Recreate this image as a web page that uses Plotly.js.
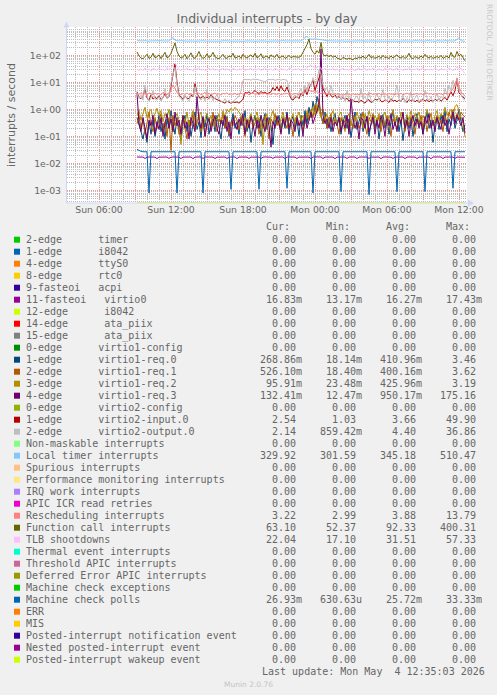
<!DOCTYPE html>
<html><head><meta charset="utf-8">
<script src="https://cdn.plot.ly/plotly-3.0.1.min.js"></script>
<style>html,body{margin:0;padding:0;background:#F0F0F0;}#chart{width:497px;height:695px;}</style>
</head><body><div id="chart"></div>
<script>
// ---------- time axis ----------
const seriesStart = [2026, 4, 3, 9, 10]; // Sun 2026-05-03 09:10 (UTC-less wall clock)
const stepMinutes = 10;
const xRange = ['2026-05-03 03:20', '2026-05-04 12:40'];
const xTickVals = ['2026-05-03 06:00','2026-05-03 09:00','2026-05-03 12:00','2026-05-03 15:00','2026-05-03 18:00','2026-05-03 21:00','2026-05-04 00:00','2026-05-04 03:00','2026-05-04 06:00','2026-05-04 09:00','2026-05-04 12:00'];
const xTickText = ['Sun 06:00','','Sun 12:00','','Sun 18:00','','Mon 00:00','','Mon 06:00','','Mon 12:00'];
const yTickVals = [1e-3, 1e-2, 1e-1, 1e0, 1e1, 1e2];
const yTickText = ['1e-03','1e-02','1e-01','1e+00','1e+01','1e+02'];

// ---------- series values (10 min samples) ----------
const virtio0 = [
0.0172,0.0170,0.0173,0.0171,0.0152,0.0171,0.0172,0.0170,0.0173,0.0171,
0.0150,0.0172,0.0170,0.0173,0.0171,0.0172,0.0153,0.0170,0.0172,0.0171,
0.0173,0.0170,0.0151,0.0172,0.0171,0.0173,0.0170,0.0172,0.0150,0.0171,
0.0172,0.0170,0.0173,0.0152,0.0171,0.0172,0.0170,0.0173,0.0171,0.0151,
0.0172,0.0170,0.0173,0.0171,0.0172,0.0152,0.0170,0.0172,0.0171,0.0173,
0.0150,0.0171,0.0172,0.0170,0.0173,0.0171,0.0152,0.0172,0.0170,0.0173,
0.0171,0.0172,0.0151,0.0170,0.0173,0.0171,0.0172,0.0170,0.0153,0.0172,
0.0171,0.0173,0.0170,0.0172,0.0150,0.0171,0.0173,0.0170,0.0172,0.0171,
0.0152,0.0172,0.0170,0.0173,0.0171,0.0172,0.0170,0.0151,0.0173,0.0171,
0.0172,0.0170,0.0173,0.0152,0.0171,0.0172,0.0170,0.0173,0.0171,0.0150,
0.0172,0.0171,0.0173,0.0170,0.0172,0.0152,0.0171,0.0173,0.0170,0.0172,
0.0151,0.0171,0.0172,0.0170,0.0173,0.0171,0.0153,0.0172,0.0170,0.0173,
0.0171,0.0172,0.0150,0.0170,0.0173,0.0171,0.0172,0.0170,0.0152,0.0172,
0.0171,0.0173,0.0170,0.0172,0.0151,0.0171,0.0173,0.0170,0.0172,0.0171,
0.0152,0.0172,0.0170,0.0173,0.0171,0.0172,0.0170,0.0150,0.0173,0.0171,
0.0172,0.0170,0.0173,0.0151,0.0171,0.0172,0.0170,0.0173,0.0171,0.0153,
0.0172,0.0171,0.0173,0.0170,0.0168];

const req0 = [
0.5,0.3,0.15,0.08,0.2,0.06,0.35,0.12,0.4,0.1,
0.25,0.6,0.15,0.3,0.08,0.45,0.2,0.9,0.3,0.12,
0.5,0.2,0.07,0.3,0.6,0.15,0.4,0.1,0.25,0.8,
0.18,0.35,0.09,0.5,0.22,0.7,0.12,0.3,0.45,0.15,
0.6,0.25,0.08,0.4,0.2,0.55,0.1,0.3,0.7,0.2,
0.35,0.12,0.5,0.25,0.9,0.15,0.4,0.06,0.3,0.6,
0.2,0.45,0.1,0.35,0.7,0.18,0.5,0.25,0.05,0.4,
0.3,0.6,0.15,0.45,0.2,0.8,0.12,0.35,0.55,0.2,
0.4,0.1,0.6,0.25,0.9,0.3,1.2,0.5,2.0,0.8,
3.0,1.5,0.6,0.3,0.8,0.2,0.5,0.15,0.4,0.7,
0.25,0.5,0.12,0.35,0.6,0.2,0.45,0.09,0.3,0.8,
0.18,0.4,0.7,0.15,0.35,0.55,0.1,0.3,0.6,0.22,
0.45,0.08,0.3,0.65,0.2,0.5,0.12,0.35,0.9,0.25,
0.55,0.15,0.4,0.07,0.3,0.6,0.2,0.45,0.1,0.35,
0.7,0.25,0.5,0.12,0.35,0.8,0.2,0.4,0.06,0.3,
0.5,0.18,0.6,0.3,0.9,0.15,0.45,0.25,0.7,0.2,
0.4,1.0,0.35,0.15,0.27];

const req1 = [
0.3,0.6,0.2,0.45,0.12,0.35,0.8,0.25,0.15,0.5,
0.2,0.4,0.7,0.15,0.35,0.1,0.5,0.03,0.6,0.25,
0.45,0.12,0.3,0.55,0.2,0.08,0.4,0.25,0.7,0.18,
0.35,0.6,0.15,0.4,0.1,0.3,0.5,0.2,0.8,0.25,
0.15,0.45,0.3,0.7,0.2,0.5,0.12,0.35,0.25,0.6,
0.4,0.18,0.55,0.3,0.1,0.45,0.25,0.65,0.2,0.35,
0.5,0.12,0.3,0.2,0.6,0.35,0.08,0.45,0.3,0.7,
0.25,0.4,0.15,0.55,0.3,0.2,0.5,0.35,0.1,0.4,
0.6,0.25,0.45,0.15,0.35,0.7,0.4,1.0,0.5,1.5,
0.8,2.5,0.6,0.3,0.5,0.2,0.4,0.7,0.25,0.45,
0.3,0.12,0.5,0.25,0.4,0.6,0.15,0.35,0.2,0.55,
0.45,0.2,0.3,0.8,0.25,0.12,0.5,0.35,0.7,0.2,
0.3,0.55,0.15,0.4,0.25,0.6,0.35,0.1,0.45,0.3,
0.2,0.5,0.35,0.7,0.15,0.4,0.25,0.55,0.3,0.12,
0.45,0.3,0.6,0.2,0.5,0.15,0.4,0.7,0.25,0.35,
0.6,0.25,0.4,0.15,0.55,0.3,0.8,0.45,1.0,0.35,
0.7,0.4,0.8,0.6,0.53];

const req2 = [
0.6,0.9,0.4,0.7,1.2,0.5,0.8,1.0,0.45,0.7,
1.1,0.6,0.9,0.35,0.7,0.5,1.0,0.3,0.15,0.5,
0.7,0.4,0.05,0.6,0.3,0.8,0.25,0.5,0.9,0.4,
0.3,0.55,0.8,0.2,0.45,0.7,0.35,0.6,0.25,0.5,
0.4,0.7,0.3,0.9,0.5,1.0,0.8,1.1,0.9,1.2,
1.0,0.8,0.6,0.3,0.5,0.2,0.45,0.7,0.3,0.55,
0.8,0.35,0.6,0.05,0.4,0.7,0.3,0.55,0.9,0.4,
0.6,0.25,0.5,0.8,0.35,0.6,0.2,0.45,0.7,0.3,
0.5,0.8,0.4,0.6,0.3,0.9,0.5,0.7,1.2,0.6,
1.5,0.8,0.5,1.0,0.4,0.7,0.3,0.6,0.9,0.45,
0.3,0.6,0.8,0.35,0.15,0.5,0.7,0.25,0.6,0.4,
0.8,0.45,0.6,0.2,0.7,0.35,0.9,0.5,0.3,0.6,
0.4,0.7,0.25,0.55,0.8,0.3,0.6,0.45,1.0,0.35,
0.6,0.3,0.8,0.5,0.2,0.65,0.4,0.9,0.35,0.7,
0.5,0.8,0.3,0.6,0.4,1.0,0.5,0.7,0.25,0.6,
0.9,0.4,0.7,0.5,1.2,0.6,0.8,1.0,0.5,1.3,
1.5,0.9,0.6,0.3,0.096];

const req3 = [
4.0,0.3,0.15,0.5,0.2,0.08,0.4,0.25,0.6,0.12,
0.35,0.18,0.5,0.1,0.3,0.7,0.2,0.45,0.15,0.8,
0.25,0.4,0.12,0.6,0.2,0.35,0.08,0.5,0.3,0.15,
3.0,0.4,0.2,0.55,0.1,0.3,0.45,0.15,0.35,0.6,
0.2,0.12,0.4,0.25,0.6,0.15,0.35,0.08,0.5,0.3,
0.18,0.45,0.25,0.7,0.12,0.4,0.2,0.55,0.3,0.1,
0.4,0.2,0.6,0.3,0.15,0.5,0.25,0.04,0.35,0.2,
0.55,0.3,0.12,0.45,0.25,0.7,0.18,0.4,0.3,0.15,
0.5,0.25,0.35,0.1,0.6,0.2,0.4,0.8,0.3,0.5,
0.8,1.5,175,0.6,0.3,0.45,0.2,0.5,0.15,0.35,
0.25,0.5,0.15,0.4,0.2,0.6,0.12,2.5,0.45,0.2,
0.35,0.08,0.5,0.4,0.2,0.55,0.15,0.3,0.5,0.12,
0.4,0.2,0.6,0.3,0.1,0.45,0.25,0.7,0.18,0.35,
0.15,0.5,0.3,0.8,0.2,0.4,0.1,0.35,0.6,0.25,
0.45,0.2,0.35,0.12,0.55,0.3,0.7,0.2,0.4,0.15,
0.5,0.3,0.18,0.6,0.25,0.4,0.12,0.35,0.8,0.3,
0.6,0.4,0.25,0.5,0.13];

const input0 = [
4.5,2.8,2.5,3.0,6.0,2.6,2.2,3.5,2.4,2.8,
2.5,3.2,2.3,2.7,4.0,2.6,3.0,8.0,15,49,
10,3.5,2.8,2.4,3.1,2.6,2.5,3.4,2.9,9.0,
4.0,2.8,2.6,3.2,2.5,2.9,2.4,3.6,2.7,2.5,
2.3,2.2,1.9,1.8,1.7,2.0,1.8,1.7,1.9,1.8,
1.9,1.7,2.0,2.4,4.2,4.0,4.5,3.8,4.3,5.0,
4.2,3.9,4.6,4.0,4.4,3.8,4.1,4.5,6.5,5.0,
7.0,4.8,7.5,5.2,4.6,6.8,4.2,2.5,2.2,2.8,
3.0,2.5,4.0,3.2,5.5,3.5,6.0,8.0,12,5.0,
9.0,15,25,6.0,4.0,3.0,4.5,3.2,2.8,3.5,
2.6,3.0,2.4,2.8,2.2,2.6,2.0,2.4,2.2,1.9,
2.0,1.8,2.2,1.9,1.7,2.1,2.3,1.8,2.0,2.4,
2.2,2.6,2.0,1.9,2.3,2.1,1.8,2.5,2.0,2.2,
1.9,2.3,2.0,2.6,2.2,1.8,2.4,2.0,2.3,1.9,
2.2,1.8,2.1,2.5,2.0,2.3,1.9,2.2,2.0,2.4,
2.1,2.5,2.0,2.3,2.8,2.2,3.0,4.5,3.2,5.0,
14,4.0,3.5,2.8,2.54];

const output0 = [
4.0,2.5,3.5,2.2,8.0,3.0,2.0,2.6,5.0,2.4,
2.2,3.0,2.0,2.8,6.0,2.5,3.2,10,20,36,
8.0,3.0,2.5,2.0,3.5,2.4,2.0,4.0,3.0,7.0,
3.5,2.6,2.2,3.0,2.0,5.5,2.4,3.2,2.1,2.8,
3.5,2.4,2.0,1.8,2.5,1.9,2.2,1.7,2.0,2.3,
2.6,3.0,5.0,12,13,12.5,13,12,13.5,12.5,
13,12.5,12,11,10.5,12,13,12.5,13,12,
12.5,13,12,13,12.5,12,6.0,3.0,2.5,3.5,
2.8,4.0,6.0,3.5,8.0,4.5,10,7.0,15,9.0,
12,30,20,8.0,5.0,6.5,3.5,8.0,4.0,3.0,
2.5,4.0,2.2,3.5,2.0,5.0,2.4,3.0,1.8,2.6,
3.2,2.0,6.0,2.4,3.0,2.0,4.5,2.2,1.8,2.6,
4.0,2.2,2.8,5.5,2.4,2.0,3.2,1.9,2.6,4.0,
8.0,2.5,2.0,3.5,1.8,2.8,2.2,4.5,2.0,2.6,
3.5,1.9,2.4,2.0,5.0,2.6,2.2,3.0,1.8,2.5,
4.0,2.2,3.0,2.5,6.0,3.5,8.0,5.0,12,7.0,
15,5.0,3.5,2.5,2.14];

const localTimer = [
350,342,338,345,352,340,336,344,348,340,
338,345,350,342,336,348,340,395,460,365,
345,340,352,338,344,336,348,342,338,350,
342,336,345,352,340,338,346,342,335,348,
340,344,338,350,342,336,345,340,338,346,
352,340,335,342,348,338,344,340,336,345,
340,338,346,352,340,335,342,348,338,344,
340,336,345,352,340,338,344,346,338,342,
340,345,342,380,470,505,420,400,410,405,
400,395,385,370,360,350,345,340,348,342,
338,345,350,342,336,348,340,338,344,340,
336,345,340,352,338,342,335,348,340,344,
338,350,342,336,345,340,338,346,352,340,
335,342,348,338,344,340,336,345,340,350,
338,342,346,336,340,352,344,338,342,335,
348,340,344,338,350,342,336,345,340,345,
395,450,350,338,330];

const rescheduling = [
3.8,3.5,4.2,3.6,3.9,3.4,4.1,3.7,3.5,4.0,
3.6,3.9,3.4,4.3,3.7,3.5,4.0,5.5,8.0,6.0,
4.2,3.7,3.5,3.9,3.6,4.1,3.5,3.8,3.4,3.9,
3.7,4.0,3.5,3.8,4.2,3.6,3.9,3.5,3.7,4.0,
3.6,3.8,3.4,3.9,3.7,4.1,3.5,3.8,3.6,3.9,
3.5,3.8,4.0,3.6,3.7,3.9,3.5,3.8,4.1,3.6,
3.8,3.5,3.9,3.7,4.0,3.6,3.8,3.5,3.9,3.7,
3.6,3.9,3.5,3.8,3.7,4.0,3.5,3.8,3.6,3.9,
3.7,3.5,3.9,4.2,5.0,6.5,5.5,4.5,4.8,4.2,
4.6,4.0,3.8,4.1,3.7,3.9,3.6,3.8,3.5,3.9,
3.6,3.8,3.4,3.7,3.5,3.9,3.6,3.4,3.8,3.5,
3.7,3.5,3.9,3.6,3.8,3.4,3.7,3.9,3.5,3.8,
3.6,3.9,3.5,3.7,3.8,3.4,3.9,3.6,3.7,3.5,
3.8,3.6,3.9,3.5,3.7,4.0,3.6,3.8,3.5,3.7,
3.9,3.6,3.8,3.5,3.7,4.1,3.6,3.9,3.5,3.8,
3.6,3.9,3.7,3.5,4.0,3.7,3.8,4.5,6.0,9.0,
13.5,7.0,4.5,3.6,3.2];

const functionCall = [
135,95,80,75,90,110,78,85,120,82,
88,105,76,95,130,82,90,120,200,290,
140,95,80,88,110,75,92,125,85,78,
100,140,90,78,85,115,82,95,130,88,
80,75,90,110,82,78,95,88,120,80,
85,95,78,110,88,80,92,105,85,120,
82,90,115,80,88,95,78,105,90,85,
110,80,88,95,78,85,100,82,90,88,
90,85,95,130,200,250,400,180,130,110,
150,120,300,110,95,105,90,100,85,95,
80,75,70,85,78,72,80,75,68,82,
76,88,80,95,78,85,110,82,90,78,
85,92,78,100,82,88,76,95,80,90,
105,85,80,92,78,88,120,82,76,90,
85,78,95,82,110,88,80,92,78,85,
90,82,100,78,85,95,80,130,90,85,
140,95,110,78,63];

const tlbShootdowns = [
30,28,32,27,35,29,31,26,33,30,
28,34,29,31,27,36,30,33,45,52,
38,30,27,32,29,35,28,31,26,33,
30,36,28,32,27,31,34,29,33,28,
31,27,30,35,28,32,29,26,33,30,
28,32,29,35,27,31,30,34,28,32,
29,33,27,31,36,28,30,32,27,34,
30,28,33,29,31,27,35,30,28,32,
29,33,27,31,30,35,40,45,38,33,
36,40,32,29,34,28,31,30,35,28,
32,27,30,34,29,31,28,33,30,27,
31,35,28,30,33,27,32,29,34,30,
28,32,30,27,35,29,31,33,28,30,
34,29,31,27,32,30,36,28,31,29,
33,28,30,35,27,31,29,32,28,34,
30,27,33,29,31,28,35,30,27,32,
38,30,34,25,22];

const machineCheckPolls = [
0.033,0.030,0.028,0.027,0.027,0.027,0.0008,0.027,0.027,0.027,
0.027,0.027,0.027,0.028,0.027,0.027,0.027,0.027,0.027,0.027,
0.0008,0.027,0.027,0.027,0.027,0.027,0.027,0.027,0.028,0.027,
0.027,0.027,0.027,0.0008,0.027,0.027,0.027,0.027,0.027,0.027,
0.027,0.027,0.027,0.027,0.027,0.028,0.027,0.0011,0.027,0.027,
0.027,0.027,0.027,0.027,0.027,0.027,0.027,0.027,0.027,0.027,
0.027,0.0011,0.027,0.027,0.027,0.027,0.027,0.027,0.027,0.027,
0.027,0.027,0.027,0.027,0.027,0.0012,0.027,0.027,0.027,0.027,
0.027,0.027,0.027,0.027,0.027,0.027,0.027,0.027,0.0008,0.027,
0.027,0.027,0.028,0.027,0.027,0.027,0.027,0.027,0.027,0.027,
0.027,0.027,0.0009,0.027,0.027,0.027,0.027,0.027,0.028,0.027,
0.027,0.027,0.027,0.027,0.027,0.027,0.0007,0.027,0.027,0.027,
0.027,0.027,0.027,0.027,0.028,0.027,0.027,0.027,0.027,0.027,
0.0009,0.027,0.027,0.027,0.027,0.027,0.027,0.027,0.027,0.027,
0.027,0.027,0.027,0.027,0.0009,0.027,0.027,0.027,0.027,0.027,
0.027,0.027,0.027,0.027,0.027,0.027,0.027,0.027,0.0012,0.027,
0.027,0.027,0.027,0.027,0.027];

// ---------- legend table ----------
const legendLabels = [
'2-edge      timer','1-edge      i8042','4-edge      ttyS0','8-edge      rtc0','9-fasteoi   acpi',
'11-fasteoi   virtio0','12-edge      i8042','14-edge      ata_piix','15-edge      ata_piix',
'0-edge      virtio1-config','1-edge      virtio1-req.0','2-edge      virtio1-req.1','3-edge      virtio1-req.2',
'4-edge      virtio1-req.3','0-edge      virtio2-config','1-edge      virtio2-input.0','2-edge      virtio2-output.0',
'Non-maskable interrupts','Local timer interrupts','Spurious interrupts','Performance monitoring interrupts',
'IRQ work interrupts','APIC ICR read retries','Rescheduling interrupts','Function call interrupts','TLB shootdowns',
'Thermal event interrupts','Threshold APIC interrupts','Deferred Error APIC interrupts','Machine check exceptions',
'Machine check polls','ERR','MIS','Posted-interrupt notification event','Nested posted-interrupt event',
'Posted-interrupt wakeup event'];
const legendColors = ['#00CC00','#0066B3','#FF8000','#FFCC00','#330099','#990099','#CCFF00','#FF0000','#808080',
'#008F00','#00487D','#B35A00','#B38F00','#6B006B','#8FB300','#B30000','#BEBEBE','#80FF80','#80C9FF','#FFC080',
'#FFE680','#AA80FF','#EE00CC','#FF8080','#666600','#FFBFFF','#00FFCC','#CC6699','#999900','#00CC00','#0066B3',
'#FF8000','#FFCC00','#330099','#990099','#CCFF00'];
const curValues = ['0.00','0.00','0.00','0.00','0.00','16.83m','0.00','0.00','0.00','0.00','268.86m','526.10m','95.91m','132.41m','0.00','2.54','2.14','0.00','329.92','0.00','0.00','0.00','0.00','3.22','63.10','22.04','0.00','0.00','0.00','0.00','26.93m','0.00','0.00','0.00','0.00','0.00'];
const minValues = ['0.00','0.00','0.00','0.00','0.00','13.17m','0.00','0.00','0.00','0.00','18.14m','18.40m','23.48m','12.47m','0.00','1.03','859.42m','0.00','301.59','0.00','0.00','0.00','0.00','2.99','52.37','17.10','0.00','0.00','0.00','0.00','630.63u','0.00','0.00','0.00','0.00','0.00'];
const avgValues = ['0.00','0.00','0.00','0.00','0.00','16.27m','0.00','0.00','0.00','0.00','410.96m','400.16m','425.96m','950.17m','0.00','3.66','4.40','0.00','345.18','0.00','0.00','0.00','0.00','3.88','92.33','31.51','0.00','0.00','0.00','0.00','25.72m','0.00','0.00','0.00','0.00','0.00'];
const maxValues = ['0.00','0.00','0.00','0.00','0.00','17.43m','0.00','0.00','0.00','0.00','3.46','3.62','3.19','175.16','0.00','49.90','36.86','0.00','510.47','0.00','0.00','0.00','0.00','13.79','400.31','57.33','0.00','0.00','0.00','0.00','33.33m','0.00','0.00','0.00','0.00','0.00'];
const columnHeaders = ['Cur:','Min:','Avg:','Max:'];
const titleText = 'Individual interrupts - by day';
const yTitleText = 'interrupts / second';
const lastUpdateText = 'Last update: Mon May  4 12:35:03 2026';
const watermarkText = 'RRDTOOL / TOBI OETIKER';
const footerText = 'Munin 2.0.76';

// plotted series (legend order = draw order)
const plotted = [
  {idx:5, y:virtio0}, {idx:10, y:req0}, {idx:11, y:req1}, {idx:12, y:req2}, {idx:13, y:req3},
  {idx:15, y:input0}, {idx:16, y:output0}, {idx:18, y:localTimer}, {idx:23, y:rescheduling},
  {idx:24, y:functionCall}, {idx:25, y:tlbShootdowns}, {idx:30, y:machineCheckPolls}
];

// ---------- build ----------
function buildTimes(n){
  const t0 = Date.UTC(seriesStart[0], seriesStart[1], seriesStart[2], seriesStart[3], seriesStart[4]);
  const out = [];
  for (let i = 0; i < n; i++) out.push(new Date(t0 + i*stepMinutes*60000).toISOString().slice(0,16).replace('T',' '));
  return out;
}
const times = buildTimes(localTimer.length);

const traces = plotted.map(s => ({
  type:'scatter', mode:'lines', x: times, y: s.y, name: legendLabels[s.idx],
  line:{color: legendColors[s.idx], width:1}, hoverinfo:'skip'
}));

// page geometry (pixels)
const W = 497, H = 695, L = 67, R = 467, T = 27, B = 203;
const px = x => (x - L) / (R - L);
const py = y => (B - y) / (B - T);
const nb = s => s.replace(/ /g, '\u00a0');
const FONT = '#666666';
const mono = {family:'DejaVu Sans Mono', size:10, color:FONT};

const annotations = [];
const shapes = [];
function txt(x, y, text, font, anchor, extra){
  annotations.push(Object.assign({xref:'paper', yref:'paper', x:px(x), y:py(y), text:nb(text), showarrow:false,
    xanchor:anchor||'left', yanchor:'middle', font:font, borderpad:0, borderwidth:0}, extra||{}));
}
function fmtVal(s){
  let unit = ' ', num = s;
  if (/[a-zA-Z]$/.test(s)) { unit = s.slice(-1); num = s.slice(0,-1); }
  return num.padStart(6, ' ') + unit;
}
// headers
const colStart = [260.3, 320.3, 380.3, 440.3];
columnHeaders.forEach((h, c) => txt(colStart[c] + 6, 226.7, h, mono));
legendLabels.forEach((lab, i) => {
  const yy = 239.7 + 12*i;
  shapes.push({type:'rect', xref:'paper', yref:'paper', x0:px(14), x1:px(20), y0:py(yy+3), y1:py(yy-3),
    fillcolor:legendColors[i], line:{width:0}});
  txt(26, yy, lab, mono);
  [curValues, minValues, avgValues, maxValues].forEach((arr, c) => txt(colStart[c], yy, fmtVal(arr[i]), mono));
});
txt(261.7, 671.7, lastUpdateText, mono);
txt(248, 684, footerText, {family:'DejaVu Sans', size:7.5, color:'#c4c4c4'}, 'center');
txt(490, 52, watermarkText, {family:'DejaVu Sans', size:7.5, color:'#c8c8c8'}, 'center', {textangle:90});
txt(11, 115, yTitleText, {family:'DejaVu Sans', size:11, color:FONT}, 'center', {textangle:-90});

// axis lines & arrows (rrdtool style)
const axisCol = '#CFD6F8';
shapes.push({type:'line', xref:'paper', yref:'paper', x0:px(66.5), x1:px(66.5), y0:py(B), y1:py(24), line:{color:axisCol, width:1}});
shapes.push({type:'path', xref:'paper', yref:'paper', path:`M${px(63.5)},${py(27.5)} L${px(69.5)},${py(27.5)} L${px(66.5)},${py(21.5)} Z`, fillcolor:axisCol, line:{width:0}});
shapes.push({type:'line', xref:'paper', yref:'paper', x0:px(66.5), x1:px(470), y0:py(B), y1:py(B), line:{color:axisCol, width:1}});
shapes.push({type:'path', xref:'paper', yref:'paper', path:`M${px(468)},${py(199.5)} L${px(468)},${py(206.5)} L${px(474)},${py(203)} Z`, fillcolor:axisCol, line:{width:0}});
// zero-valued series clamped at the log floor (drawn last by rrdtool)
shapes.push({type:'line', xref:'x', yref:'paper', x0:times[0], x1:times[times.length-1], y0:py(B-0.5), y1:py(B-0.5), line:{color:'#d4ee8a', width:1}});

// minor log grid values
const minorY = [];
for (let k = -4; k <= 3; k++) for (let m = 2; m <= 9; m++) minorY.push(m * Math.pow(10, k));

const tickFont = {family:'DejaVu Sans', size:9.3, color:FONT};
const layout = {
  width:W, height:H, autosize:false,
  paper_bgcolor:'#F0F0F0', plot_bgcolor:'#FFFFFF',
  margin:{l:L, r:W-R, t:T, b:H-B, pad:0},
  showlegend:false,
  title:{text:titleText, x:0.5, xref:'paper', xanchor:'center', y:1-19/H, yref:'container', yanchor:'middle',
    font:{family:'DejaVu Sans', size:12.5, color:FONT}},
  xaxis:{type:'date', range:xRange, tickmode:'array', tickvals:xTickVals, ticktext:xTickText,
    showgrid:true, gridcolor:'#EB9595', gridwidth:1, griddash:'1px,1px', zeroline:false, showline:false,
    ticks:'', tickfont:tickFont, fixedrange:true,
    minor:{dtick:3600000, tick0:'2026-05-03 00:00', showgrid:true, gridcolor:'#BDBDBD', griddash:'1px,1px', gridwidth:1, ticks:''}},
  yaxis:{type:'log', range:[-3.467, 3.052], tickmode:'array', tickvals:yTickVals, ticktext:yTickText,
    showgrid:true, gridcolor:'#EB9595', gridwidth:1, griddash:'1px,1px', zeroline:false, showline:false,
    ticks:'', tickfont:tickFont, ticklabelstandoff:5, fixedrange:true,
    minor:{tickmode:'array', tickvals:minorY, showgrid:true, gridcolor:'#BDBDBD', griddash:'1px,1px', gridwidth:1, ticks:''}},
  annotations:annotations, shapes:shapes
};
Plotly.newPlot('chart', traces, layout, {staticPlot:true, displayModeBar:false});
</script></body></html>
